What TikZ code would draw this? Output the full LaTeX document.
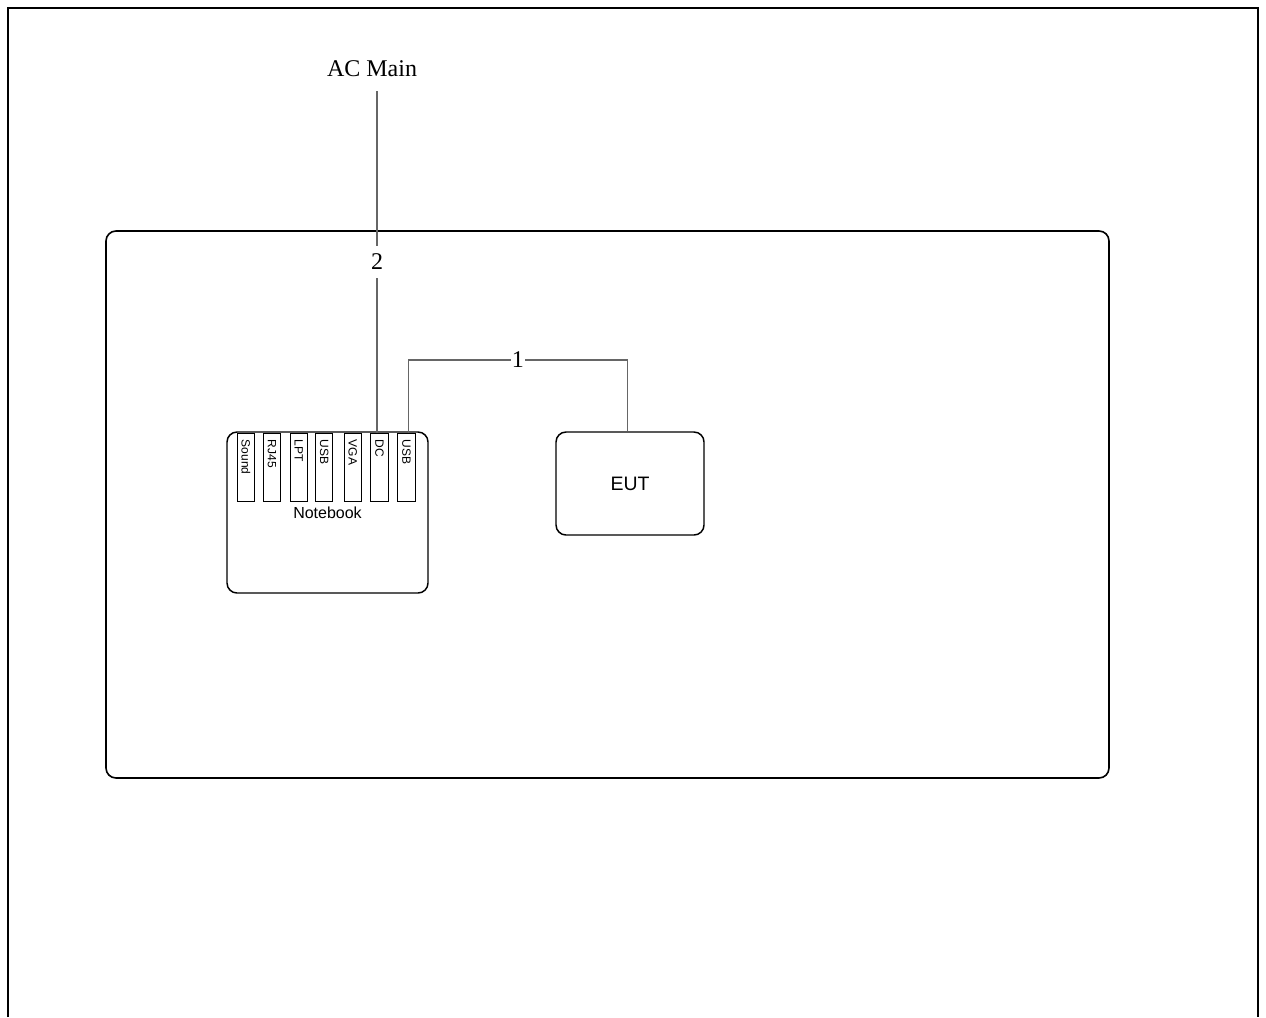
\documentclass[tikz,border=0pt]{standalone}
\usepackage{fontspec}
\setmainfont{Liberation Serif}
\setsansfont{Liberation Sans}
\usetikzlibrary{calc}

\begin{document}
\begin{tikzpicture}[x=0.75pt, y=-0.75pt,
    frame/.style={draw, line width=1.5pt},
    bench/.style={draw, line width=1.2pt, rounded corners=7.5pt},
    unit/.style={draw, line width=1.1pt, rounded corners=7.5pt, inner sep=0pt,
                 font=\sffamily\fontsize{12}{14}\selectfont},
    port/.style={draw, line width=0.8pt, rotate=-90, anchor=west, minimum width=51pt,
                 minimum height=13pt, text width=41pt, align=left, inner xsep=5pt,
                 inner ysep=0pt, font=\sffamily\fontsize{9}{10}\selectfont},
    cable/.style={draw=black!60, line width=0.9pt},
    lbl/.style={fill=white, inner xsep=1pt, inner ysep=6pt, font=\fontsize{18}{20}\selectfont},
]
\useasboundingbox (0,0) rectangle (1266,1017);
\draw[frame] (7.5,1017) -- (7.5,7.5) -- (1257.5,7.5) -- (1257.5,1017);
\draw[bench] (106,231) rectangle (1109,778);

\node[font=\fontsize{18}{20}\selectfont] (acmain) at (372,69) {AC Main};
\coordinate (acfeed) at (377,91);

% notebook and its ports
\node[unit, minimum width=150.75pt, minimum height=120.75pt] (notebook) at (327.5,512.5) {Notebook};
\node[port] (sound) at (246,432.5) {Sound};
\node[port] (rj) at (272,432.5) {RJ45};
\node[port] (lpt) at (298.7,432.5) {LPT};
\node[port] (usba) at (324.2,432.5) {USB};
\node[port] (vga) at (352.8,432.5) {VGA};
\node[port] (dc) at (379.5,432.5) {DC};
\node[port] (usbb) at (406.5,432.5) {USB};

\node[unit, minimum width=111pt, minimum height=77.25pt, font=\sffamily\fontsize{14.6}{16}\selectfont] (eut) at (630,483.5) {EUT};
\coordinate (eutfeed) at ([xshift=-1.8pt]eut.north);

% cables
\draw[cable] (acfeed) -- node[lbl]{2} (acfeed |- dc.west);
\draw[cable] ([xshift=1.2pt]usbb.west) -- ++(0,-72.5) coordinate (hop)
    -- node[lbl, inner ysep=1pt]{1} (hop -| eutfeed) -- (eutfeed);
\end{tikzpicture}
\end{document}
